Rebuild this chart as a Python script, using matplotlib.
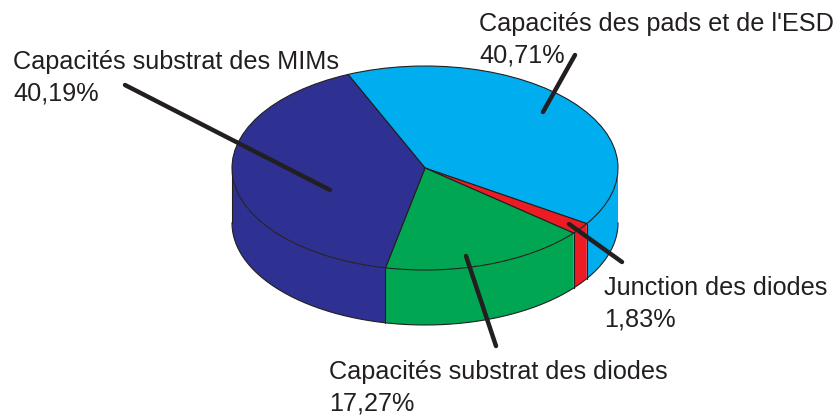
import numpy as np
import matplotlib
matplotlib.use("Agg")
import matplotlib.pyplot as plt

plt.rcParams['font.family'] = ['Liberation Sans', 'DejaVu Sans']

# valeurs du camembert, dans l'ordre horaire depuis le haut
noms = ["Capacités des pads et de l'ESD", "Junction des diodes",
        "Capacités substrat des diodes", "Capacités substrat des MIMs"]
valeurs = [40.71, 1.83, 17.27, 40.19]
etiquettes = ["40,71%", "1,83%", "17,27%", "40,19%"]
couleurs = ["#00AEEF", "#ED1C24", "#00A651", "#2E3192"]

W, H = 838, 417
cx, cy, rx, ry = 425, 168, 193, 102
prof = 55 / ry
depart = 113.5
bord = "#231F20"

fig = plt.figure(figsize=(W / 100, H / 100), dpi=100)
ax = fig.add_axes([0, 0, 1, 1])

# angles des parts
fin = depart - np.cumsum(valeurs) * 3.6
debut = np.r_[depart, fin[:-1]]

# le flanc, seulement la moitie basse de l'ellipse (de 0 a -180)
for a, b, c in zip(debut, fin, couleurs):
    hi = min(a, 0)
    lo = max(b, -180)
    if hi <= lo:
        continue
    t = np.radians(np.linspace(hi, lo, 120))
    x = np.cos(t)
    y = np.sin(t)
    ax.fill(np.r_[x, x[::-1]], np.r_[y, y[::-1] - prof], color=c, ec='none', zorder=1)
    if lo > -180:
        ax.plot([x[-1], x[-1]], [y[-1], y[-1] - prof], color=bord, lw=0.8, zorder=2)

# contour du flanc
t = np.radians(np.linspace(0, -180, 200))
ax.plot(np.cos(t), np.sin(t) - prof, color=bord, lw=0.8, zorder=2)
ax.plot([-1, -1], [0, -prof], color=bord, lw=0.8, zorder=2)

# le dessus, pie normal qu'on ecrase ensuite avec les limites des axes
ax.pie(valeurs, colors=couleurs, startangle=depart, counterclock=False, radius=1,
       wedgeprops={'edgecolor': bord, 'linewidth': 0.8, 'zorder': 3})
ax.set_aspect('auto')
ax.set_xlim(-cx / rx, (W - cx) / rx)
ax.set_ylim((cy - H) / ry, cy / ry)
ax.set_frame_on(False)
ax.set_xticks([])
ax.set_yticks([])

# textes et traits de rappel en pixels de l'image
pix = fig.add_axes([0, 0, 1, 1], facecolor='none')
pix.set_xlim(0, W)
pix.set_ylim(H, 0)
pix.axis('off')

pos_textes = [(479, 24), (604, 288), (329, 372), (13, 62)]
traits = [((575, 55), (543, 112)), ((569, 224), (622, 262)),
          ((466, 256), (496, 346)), ((125, 85), (330, 190))]
for nom, etiq, (x, y), (p, q) in zip(noms, etiquettes, pos_textes, traits):
    pix.text(x, y, nom, fontsize=18.2, color=bord, va='center', ha='left')
    pix.text(x, y + 31, etiq, fontsize=18.2, color=bord, va='center', ha='left')
    pix.plot([p[0], q[0]], [p[1], q[1]], color=bord, lw=3.2, solid_capstyle='round', zorder=5)

fig.savefig("out.png", dpi=100)
